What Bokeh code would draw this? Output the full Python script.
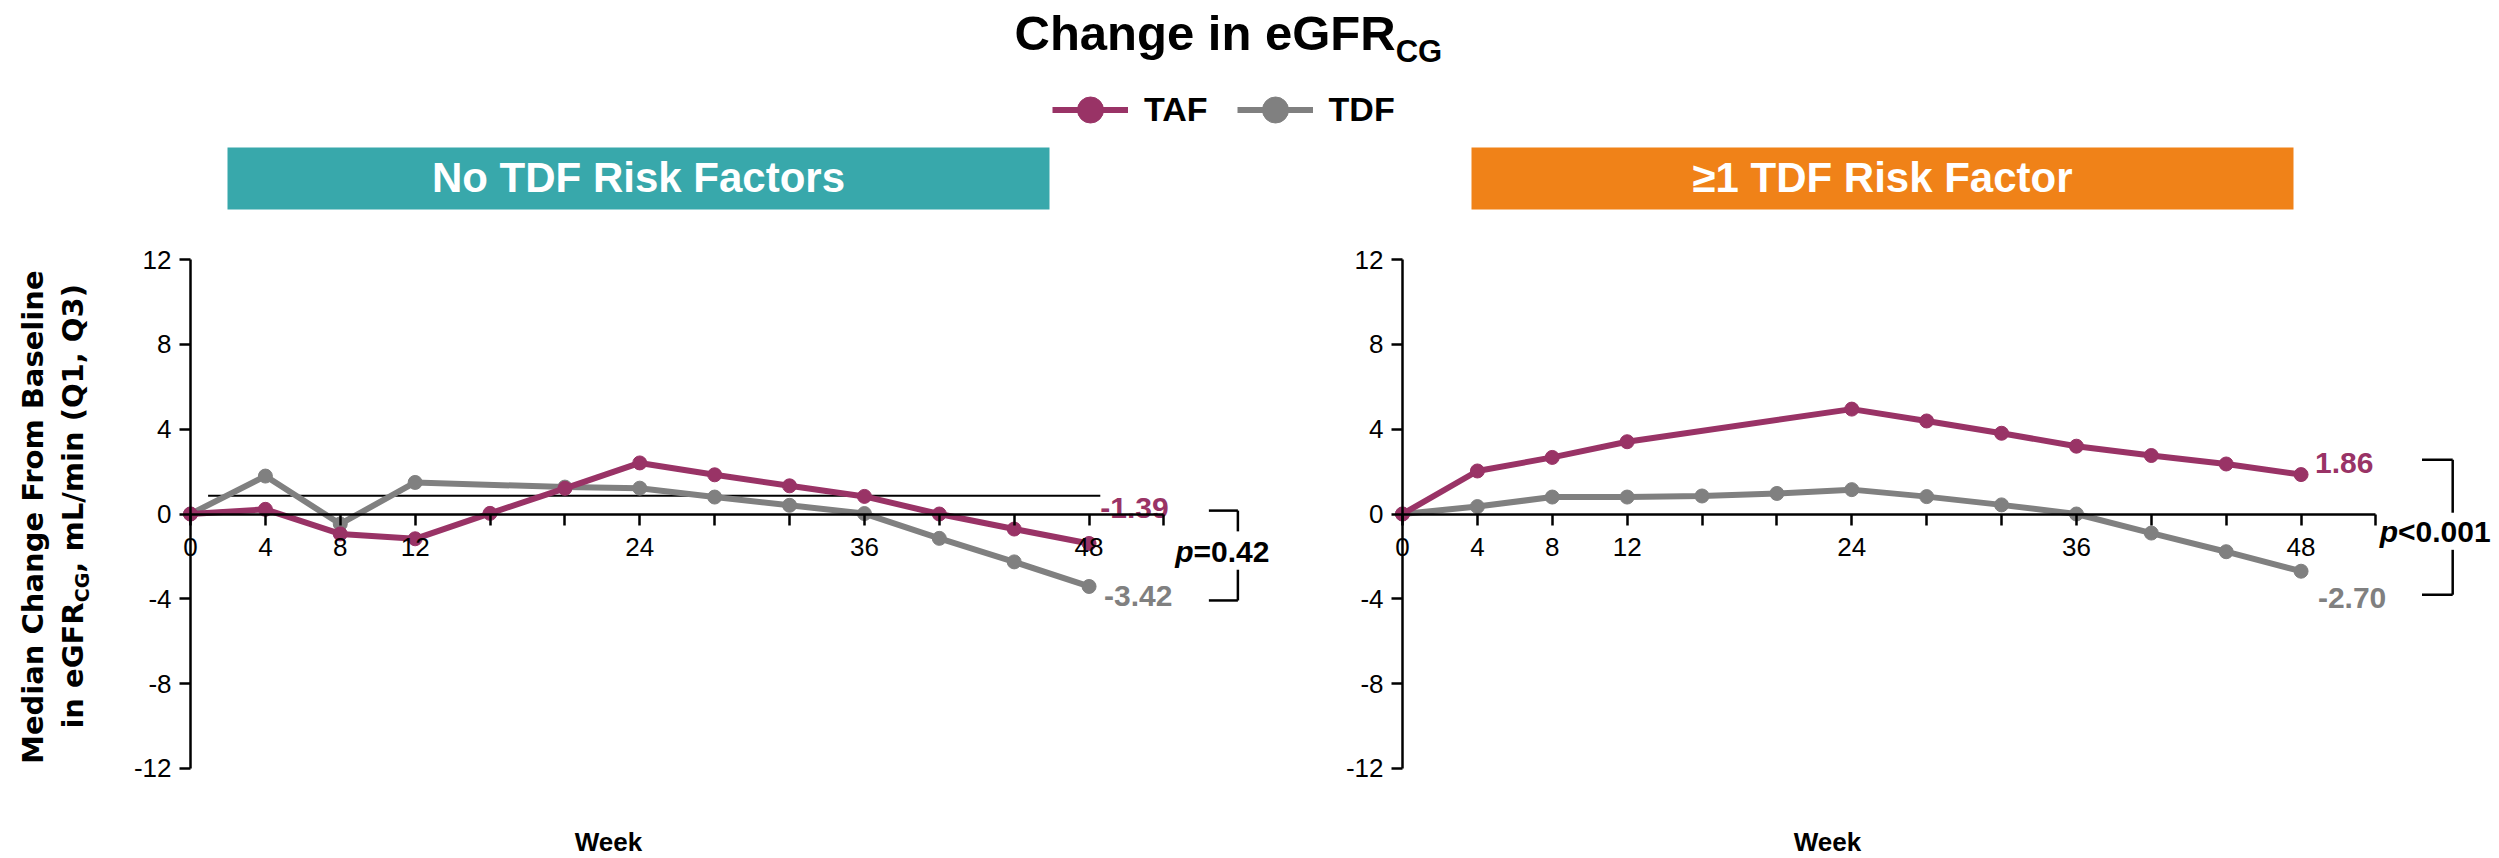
import math
from bokeh.plotting import figure
from bokeh.models import (Range1d, LinearAxis, FixedTicker, Label, BoxAnnotation,
                          Legend, LegendItem)
from bokeh.core.properties import value
from bokeh.embed import file_html
from bokeh.resources import INLINE

# ---------------- data ----------------
series_names = ["TAF", "TDF"]
panel_titles = ["No TDF Risk Factors", "\u22651 TDF Risk Factor"]

weeks_taf_norf = [0, 4, 8, 12, 16, 20, 24, 28, 32, 36, 40, 44, 48]
taf_norf = [0.0, 0.22, -0.94, -1.17, 0.03, 1.21, 2.41, 1.85, 1.33, 0.83, 0.0, -0.71, -1.39]
weeks_tdf_norf = [0, 4, 8, 12, 20, 24, 28, 32, 36, 40, 44, 48]
tdf_norf = [0.0, 1.79, -0.47, 1.49, 1.27, 1.22, 0.80, 0.41, 0.02, -1.15, -2.26, -3.42]

weeks_taf_rf = [0, 4, 8, 12, 24, 28, 32, 36, 40, 44, 48]
taf_rf = [0.0, 2.03, 2.67, 3.41, 4.95, 4.39, 3.81, 3.20, 2.76, 2.36, 1.86]
weeks_tdf_rf = [0, 4, 8, 12, 16, 20, 24, 28, 32, 36, 40, 44, 48]
tdf_rf = [0.0, 0.35, 0.80, 0.80, 0.85, 0.97, 1.15, 0.82, 0.43, 0.0, -0.90, -1.78, -2.70]

ref_line_weeks = [0.94, 48.6]
ref_line_value = 0.86

p_value_texts = ["=0.42", "<0.001"]

x_ticks = [0, 4, 8, 12, 16, 20, 24, 28, 32, 36, 40, 44, 48, 52]
x_tick_labels = {0: "0", 4: "4", 8: "8", 12: "12", 24: "24", 36: "36", 48: "48"}
y_ticks = [-12, -8, -4, 0, 4, 8, 12]
y_tick_labels = ["-12", "-8", "-4", "0", "4", "8", "12"]

# ---------------- styling / layout ----------------
TAF_COLOR = "#993366"
TDF_COLOR = "#808080"
TEAL = "#38A8AB"
ORANGE = "#F08218"
FONT = "Liberation Sans"
W, H = 2499, 858
PX_WEEK = 18.72
PX_UNIT = 21.19
LEFT0 = 190.0
RIGHT0 = 1402.0
ZERO_Y = 513.5
KB = 0.36  # empirical baseline correction (fraction of font size)

p = figure(width=W, height=H, output_backend="svg", toolbar_location=None,
           x_axis_type=None, y_axis_type=None, min_border=0,
           x_range=Range1d(-LEFT0 / PX_WEEK, (W - LEFT0) / PX_WEEK),
           y_range=Range1d(-(H - ZERO_Y) / PX_UNIT, ZERO_Y / PX_UNIT))
p.extra_x_ranges = {"right": Range1d(-RIGHT0 / PX_WEEK, (W - RIGHT0) / PX_WEEK)}
p.outline_line_color = None
p.background_fill_color = "white"
p.border_fill_color = "white"


def style_axis(ax, standoff):
    ax.axis_line_color = "black"
    ax.axis_line_width = 2.5
    ax.major_tick_line_color = "black"
    ax.major_tick_line_width = 2.5
    ax.major_tick_in = 0
    ax.major_tick_out = 11
    ax.minor_tick_line_color = None
    ax.major_label_text_font = FONT
    ax.major_label_text_font_size = "26px"
    ax.major_label_text_color = "black"
    ax.major_label_standoff = standoff


panels = [
    ("default", weeks_taf_norf, taf_norf, weeks_tdf_norf, tdf_norf),
    ("right", weeks_taf_rf, taf_rf, weeks_tdf_rf, tdf_rf),
]

renderers = {}
for i, (rn, wa, va, wd, vd) in enumerate(panels):
    yax = LinearAxis(x_range_name=rn, fixed_location=0, bounds=(-12, 12),
                     ticker=FixedTicker(ticks=y_ticks),
                     major_label_overrides={t: s for t, s in zip(y_ticks, y_tick_labels)})
    style_axis(yax, 8)
    p.add_layout(yax, "left")
    xax = LinearAxis(x_range_name=rn, fixed_location=0, bounds=(0, 52),
                     ticker=FixedTicker(ticks=x_ticks),
                     major_label_overrides={t: x_tick_labels.get(t, "") for t in x_ticks})
    style_axis(xax, 13)
    p.add_layout(xax, "below")

    if i == 0:
        p.line(ref_line_weeks, [ref_line_value, ref_line_value], x_range_name=rn,
               line_color="black", line_width=2)

    ld = p.line(wd, vd, x_range_name=rn, line_color=TDF_COLOR, line_width=6)
    sd = p.scatter(wd, vd, x_range_name=rn, size=14, fill_color=TDF_COLOR,
                   line_color=TDF_COLOR)
    la = p.line(wa, va, x_range_name=rn, line_color=TAF_COLOR, line_width=6)
    sa = p.scatter(wa, va, x_range_name=rn, size=14, fill_color=TAF_COLOR,
                   line_color=TAF_COLOR)
    renderers[i] = (la, sa, ld, sd)

DY30 = KB * 30 / PX_UNIT  # baseline correction for 30px text, in data units

# end-value labels (text from the data)
end_labels = [
    ("default", weeks_taf_norf[-1] + 0.6, -0.23, f"{taf_norf[-1]:.2f}", TAF_COLOR),
    ("default", weeks_tdf_norf[-1] + 0.8, -4.40, f"{tdf_norf[-1]:.2f}", TDF_COLOR),
    ("right", weeks_taf_rf[-1] + 0.75, 1.90, f"{taf_rf[-1]:.2f}", TAF_COLOR),
    ("right", weeks_tdf_rf[-1] + 0.9, -4.46, f"{tdf_rf[-1]:.2f}", TDF_COLOR),
]
for rn, x, y, t, c in end_labels:
    p.text(x=[x], y=[y + DY30], text=[t], x_range_name=rn, text_font=value(FONT),
           text_font_style="bold", text_font_size="30px", text_color=c,
           text_align="left", text_baseline="alphabetic")

# significance brackets
brackets = [
    # range, x_in, x_line, top, gap_top, gap_bottom, bottom, p_x, p_y, p_text
    ("default", 54.4, 55.95, 0.16, -0.82, -2.63, -4.08, 52.6, -2.27, p_value_texts[0]),
    ("right", 54.46, 56.1, 2.56, 0.06, -1.69, -3.81, 52.2, -1.33, p_value_texts[1]),
]
for rn, xi, xl, top, gt, gb, bot, px, py, pt in brackets:
    p.segment(x0=[xi, xi, xl, xl], y0=[top, bot, top, gb],
              x1=[xl, xl, xl, xl], y1=[top, bot, gt, bot],
              x_range_name=rn, line_color="black", line_width=2.5)
    p.text(x=[px], y=[py + DY30], text=["p"], x_range_name=rn, text_font=value(FONT),
           text_font_style="bold italic", text_font_size="30px", text_color="black",
           text_align="left", text_baseline="alphabetic")
    p.text(x=[px + 0.98], y=[py + DY30], text=[pt], x_range_name=rn,
           text_font=value(FONT), text_font_style="bold", text_font_size="30px",
           text_color="black", text_align="left", text_baseline="alphabetic")


def screen_label(x, baseline_from_top, text, size, **kw):
    """Label positioned by its alphabetic baseline, measured from the page top."""
    return Label(x=x, y=H - baseline_from_top + KB * size, x_units="screen",
                 y_units="screen", text=text, text_baseline="alphabetic",
                 text_font=FONT, text_font_size=f"{size}px", **kw)


# header boxes
header_boxes = [(227, 1049, TEAL), (1471, 2293, ORANGE)]
for (l, r, c), t in zip(header_boxes, panel_titles):
    p.add_layout(BoxAnnotation(left=l, right=r, top=H - 147, bottom=H - 209,
                               left_units="screen", right_units="screen",
                               top_units="screen", bottom_units="screen",
                               fill_color=c, fill_alpha=1.0, line_alpha=0,
                               level="underlay"))
    p.add_layout(screen_label((l + r) / 2, 192, t, 42, text_align="center",
                              text_font_style="bold", text_color="white"))

# title with subscript
ARIAL_BOLD = {"C": .722, "h": .611, "a": .556, "n": .611, "g": .611, "e": .556,
              " ": .278, "i": .278, "G": .778, "F": .611, "R": .722}
title_main = "Change in eGFR"
title_size = 49
title_x = 1014
title_w = sum(ARIAL_BOLD[c] for c in title_main) * title_size
p.add_layout(screen_label(title_x, 50, title_main, title_size, text_align="left",
                          text_font_style="bold", text_color="black"))
p.add_layout(screen_label(title_x + title_w, 62, "CG", 31, text_align="left",
                          text_font_style="bold", text_color="black"))

# legend
la, sa, ld, sd = renderers[0]
legend = Legend(items=[LegendItem(label=series_names[0], renderers=[la, sa]),
                       LegendItem(label=series_names[1], renderers=[ld, sd])],
                orientation="horizontal", location=(1052, H - 141.5),
                glyph_width=76, glyph_height=65, label_standoff=16, spacing=29,
                padding=0, margin=0, border_line_color=None,
                background_fill_alpha=0,
                label_text_font=FONT, label_text_font_style="bold",
                label_text_font_size="34px", label_text_color="black")
p.add_layout(legend)

# x axis titles
for cx in (608, 1827):
    p.add_layout(screen_label(cx, 851, "Week", 26, text_align="center",
                              text_font_style="bold", text_color="black"))

# y axis title (rotated, two lines, subscript)
YFONT = "DejaVu Sans"
DJ = {"i": .343, "n": .712, " ": .348, "e": .678, "G": .823, "F": .683, "R": .770,
      "C": .735, ",": .380, "m": 1.042, "L": .637, "/": .367, "(": .457, ")": .457,
      "Q": .850, "1": .696, "3": .696}
ysize = 29
subsize = 19
p.add_layout(Label(x=42.7 - KB * ysize, y=H - 516.7, x_units="screen", y_units="screen",
                   text="Median Change From Baseline", angle=math.pi / 2,
                   text_align="center", text_baseline="alphabetic", text_font=YFONT,
                   text_font_style="bold", text_font_size=f"{ysize}px",
                   text_color="black"))
parts = [("in eGFR", ysize, 0), ("CG", subsize, 5), (", mL/min (Q1, Q3)", ysize, 0)]
widths = [sum(DJ[c] for c in t) * s for t, s, _ in parts]
start = (H - 505.8) - sum(widths) / 2
for (t, s, shift), w in zip(parts, widths):
    p.add_layout(Label(x=83.3 + shift - KB * s, y=start, x_units="screen",
                       y_units="screen", text=t, angle=math.pi / 2, text_align="left",
                       text_baseline="alphabetic", text_font=YFONT,
                       text_font_style="bold", text_font_size=f"{s}px",
                       text_color="black"))
    start += w

open("out.html", "w").write(file_html(p, INLINE))
